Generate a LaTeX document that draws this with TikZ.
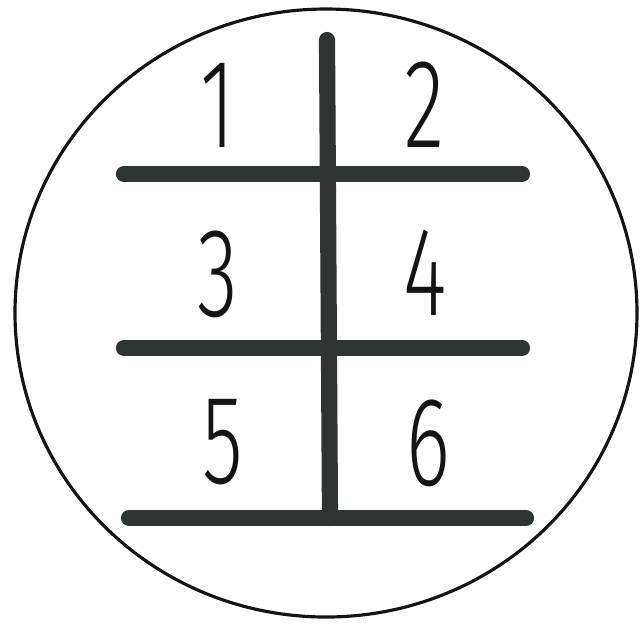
\documentclass[tikz,border=0pt]{standalone}
\usepackage{fontspec}
\setmainfont{Fira Sans Light}
\begin{document}
\begin{tikzpicture}[x=0.01cm, y=-0.01cm]
    \definecolor{mybar}{RGB}{45,52,50}
    \definecolor{myrim}{RGB}{20,20,20}
    \tikzset{gear/.style={font=\fontsize{36}{36}\selectfont, xscale=0.66, inner sep=0pt, text=myrim}}

    \useasboundingbox (0,0) rectangle (642,623);
    \draw[myrim, line width=0.9pt] (326,313) ellipse [x radius=311, y radius=304];

    % gate bars
    \draw[mybar, line width=4.6pt, line cap=round] (124,174) -- (522,174);
    \draw[mybar, line width=4.6pt, line cap=round] (124,348) -- (522,348);
    \draw[mybar, line width=4.6pt, line cap=round] (129,518) -- (526,518);
    \draw[mybar, line width=4.6pt, line cap=round] (327,40) -- (330,518);

    \node[gear] (g1) at (218,105) {1};
    \node[gear] (g2) at (425,105) {2};
    \node[gear] (g3) at (218,274) {3};
    \node[gear] (g4) at (425,273) {4};
    \node[gear] (g5) at (223,442) {5};
    \node[gear] (g6) at (428,443) {6};
\end{tikzpicture}
\end{document}
